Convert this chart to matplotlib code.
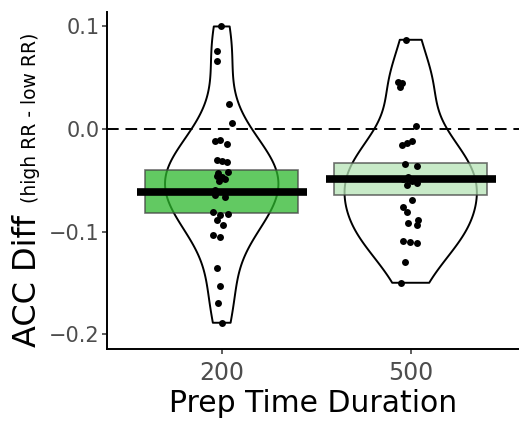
"""
Accuracy difference (high RR - low RR) by preparation time duration:
violin + jittered points + mean/CI crossbar. Output: out.png
"""
import numpy as np
import matplotlib
matplotlib.use("Agg")
import matplotlib.pyplot as plt

plt.rcParams["font.family"] = ["DejaVu Sans"]

W, H, DPI = 519, 425, 100

# ── data ─────────────────────────────────────────────────────────────────────
durations = ["200", "500"]

acc_diff_200 = [0.100, 0.076, 0.066, 0.024, 0.006,
                -0.012, -0.011, -0.015,
                -0.030, -0.031, -0.032,
                -0.042, -0.043,
                -0.046, -0.047, -0.049, -0.051,
                -0.060, -0.062, -0.064, -0.066,
                -0.081, -0.083, -0.084, -0.089, -0.094,
                -0.103, -0.105,
                -0.136, -0.153, -0.170, -0.189]
jitter_200 = [-0.004, -0.023, -0.026, 0.039, 0.054,
              -0.035, -0.009, 0.026,
              -0.026, 0.000, 0.026,
              0.035, -0.018,
              -0.026, 0.000, 0.017, -0.014,
              -0.035, 0.017, -0.035, 0.017,
              -0.044, 0.035, -0.009, -0.026, 0.008,
              -0.044, -0.009,
              -0.025, -0.009, -0.020, 0.002]

acc_diff_500 = [0.087, 0.046, 0.045, 0.041, 0.003,
                -0.012, -0.014, -0.016,
                -0.034, -0.036,
                -0.047, -0.049, -0.051, -0.053, -0.055,
                -0.069, -0.076, -0.081,
                -0.089, -0.092, -0.094,
                -0.109, -0.110, -0.111,
                -0.130, -0.150]
jitter_500 = [-0.025, -0.066, -0.048, -0.057, 0.028,
              0.005, -0.021, -0.048,
              -0.030, 0.032,
              -0.013, -0.040, 0.005, 0.032, -0.019,
              0.005, -0.039, -0.021,
              0.040, -0.013, 0.032,
              -0.039, -0.004, 0.032,
              -0.030, -0.053]

# crossbar summary (mean with interval)
mean_diff = [-0.0615, -0.0490]
lower_diff = [-0.0820, -0.0644]
upper_diff = [-0.0400, -0.0329]

BOX_COLORS = ["#2DB82D", "#B6E4B6"]
VIOLIN_WIDTHS = [0.60, 0.70]
BW_FACTOR = 0.47  # kde bandwidth as a fraction of the sample sd

fig = plt.figure(figsize=(W / DPI, H / DPI), dpi=DPI)
ax = fig.add_axes([107 / W, (H - 349) / H, (W - 107) / W, (349 - 12) / H])

pos = np.arange(1, len(durations) + 1)

# violins
parts = ax.violinplot([acc_diff_200, acc_diff_500], positions=pos,
                      widths=VIOLIN_WIDTHS, showextrema=False,
                      bw_method=BW_FACTOR, points=200)
for body in parts["bodies"]:
    body.set_alpha(1)
    body.set_facecolor("none")
    body.set_edgecolor("black")
    body.set_linewidth(1.4)
    body.set_zorder(1)

# zero reference
ax.axhline(0, color="black", lw=1.4, ls=(0, (6, 3.5)), zorder=1.5)

# crossbars
heights = np.array(upper_diff) - np.array(lower_diff)
ax.bar(pos, heights, bottom=lower_diff, width=0.81, color=BOX_COLORS,
       alpha=0.75, edgecolor="#444444", linewidth=1.2, zorder=2)
ax.hlines(mean_diff, pos - 0.45, pos + 0.45, color="black", lw=5.5,
          zorder=3)

# points
for p, vals, jit in zip(pos, [acc_diff_200, acc_diff_500],
                        [jitter_200, jitter_500]):
    ax.scatter(p + np.array(jit), vals, s=25, color="black",
               linewidths=0, zorder=4)

ax.set_xlim(0.393, 2.573)
ax.set_ylim(-0.2146, 0.1141)
ax.set_xticks(pos)
ax.set_xticklabels(durations)
ax.set_yticks([-0.2, -0.1, 0.0, 0.1])
ax.set_yticklabels(["\u22120.2", "\u22120.1", "0.0", "0.1"])

for side in ["top", "right"]:
    ax.spines[side].set_visible(False)
for side in ["left", "bottom"]:
    ax.spines[side].set_linewidth(1.4)
    ax.spines[side].set_color("black")

ax.tick_params(axis="both", length=3.5, width=1.1, color="#333333",
               labelcolor="#4D4D4D")
ax.tick_params(axis="y", labelsize=15, pad=2)
ax.tick_params(axis="x", labelsize=17, pad=5)

ax.set_xlabel("Prep Time Duration", fontsize=21.5, color="black",
              labelpad=3)

# two-size y label
fig.text(36 / W, 1 - 347 / H, "ACC Diff", rotation=90,
         rotation_mode="anchor", ha="left", va="baseline",
         fontsize=23, color="black")
fig.text(36 / W, 1 - 203 / H, "(high RR - low RR)", rotation=90,
         rotation_mode="anchor", ha="left", va="baseline",
         fontsize=13.5, color="black")

fig.savefig("out.png", dpi=DPI)
